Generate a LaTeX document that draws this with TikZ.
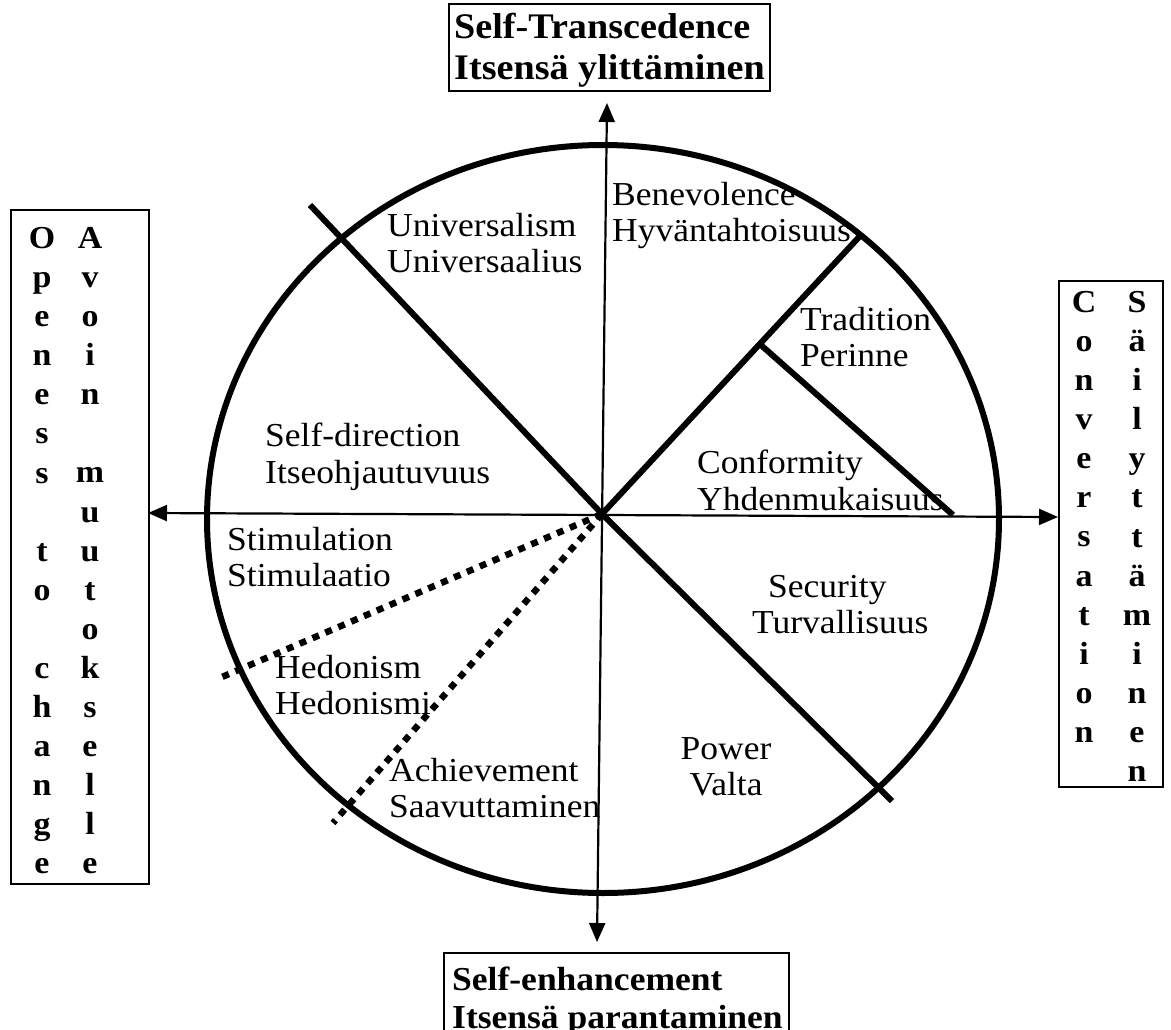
\documentclass[tikz,border=0pt]{standalone}
\usepackage{fontspec}
\setmainfont{Liberation Serif}[FakeStretch=1.06]
\usetikzlibrary{arrows.meta,calc}
\tikzset{
  axisline/.style={line width=2.2pt, {Triangle[length=19pt,width=16pt]}-{Triangle[length=19pt,width=16pt]}},
  thickline/.style={line width=6pt},
  dotline/.style={line width=6.5pt, dash pattern=on 7pt off 7pt},
  boxframe/.style={draw, line width=2.3pt, inner sep=0pt},
  lbl/.style={inner sep=0pt, anchor=north west, align=left, font=\fontsize{33.5}{36.5}\selectfont},
  boldlbl/.style={inner sep=0pt, anchor=north west, align=left, font=\fontsize{36}{41}\selectfont\bfseries},
  vcol/.style={inner sep=0pt, anchor=north, align=center, font=\fontsize{32}{39.1}\selectfont\bfseries},
}
\begin{document}
\begin{tikzpicture}[x=1pt,y=-1pt]
\useasboundingbox (0,0) rectangle (1171,1029);
\clip (0,0) rectangle (1171,1029);

% coordinates
\coordinate (c) at (602,514);
\coordinate (ttip) at (607,103);
\coordinate (btip) at (597,942);
\coordinate (ltip) at (148,513);
\coordinate (rtip) at (1058,517);
\coordinate (a1) at (310,205);
\coordinate (a2) at (892,801);
\coordinate (d1) at (860,236);
\coordinate (j) at ($(c)!0.6115!(d1)$);
\coordinate (e) at (953,515);
\coordinate (p1) at (222,677);
\coordinate (p2) at (333,823);

% circle
\draw[line width=6pt] (603,519) ellipse [x radius=396, y radius=374];

% axes
\draw[axisline] (btip) -- (ttip);
\draw[axisline] (ltip) -- (rtip);

% sector lines
\draw[thickline] (a1) -- (c) -- (a2);
\draw[thickline] (c) -- (d1);
\draw[thickline] (j) -- (e);
\draw[dotline] (c) -- (p1);
\draw[dotline] (c) -- (p2);

% labels
\node[lbl] (univ) at (387,213) {Universalism\\Universaalius};
\node[lbl] (bene) at (612,182) {Benevolence\\Hyväntahtoisuus};
\node[lbl] (trad) at (800,307) {Tradition\\Perinne};
\node[lbl] (sdir) at (265,423) {Self-direction\\Itseohjautuvuus};
\node[lbl] (conf) at (697,450) {Conformity\\Yhdenmukaisuus};
\node[lbl] (stim) at (227,527) {Stimulation\\Stimulaatio};
\node[lbl] (hedo) at (275,655) {Hedonism\\Hedonismi};
\node[lbl] (achi) at (389,758) {Achievement\\Saavuttaminen};
\node[lbl] (secu) at (752,575) {\hspace*{16pt}Security\\Turvallisuus};
\node[lbl, align=center, anchor=north] (powe) at (726,737) {Power\\Valta};

% top box
\node[boxframe, minimum width=321pt, minimum height=87pt] (topbox) at (609.5,47.5) {};
\node[boldlbl] (toptext) at (454,13) {Self-Transcedence\\Itsensä ylittäminen};

% bottom box
\node[boxframe, minimum width=345pt, minimum height=120pt, anchor=north west] (botbox) at (443,952) {};
\node[boldlbl, font=\fontsize{33.5}{38}\selectfont\bfseries] (bottext) at (452,967) {Self-enhancement\\Itsensä parantaminen};

% left box
\node[boxframe, minimum width=138pt, minimum height=674pt, anchor=north west] (leftbox) at (10,209) {};
\node[vcol] (lc1) at (42,227) {O\\p\\e\\n\\e\\s\\s\\\mbox{}\\t\\o\\\mbox{}\\c\\h\\a\\n\\g\\e};
\node[vcol] (lc2) at (90,227) {A\\v\\o\\i\\n\\\mbox{}\\m\\u\\u\\t\\o\\k\\s\\e\\l\\l\\e};

% right box
\node[boxframe, minimum width=104pt, minimum height=506pt, anchor=north west] (rightbox) at (1058,280) {};
\node[vcol] (rc1) at (1084,291) {C\\o\\n\\v\\e\\r\\s\\a\\t\\i\\o\\n};
\node[vcol] (rc2) at (1137,291) {S\\ä\\i\\l\\y\\t\\t\\ä\\m\\i\\n\\e\\n};
\end{tikzpicture}
\end{document}
